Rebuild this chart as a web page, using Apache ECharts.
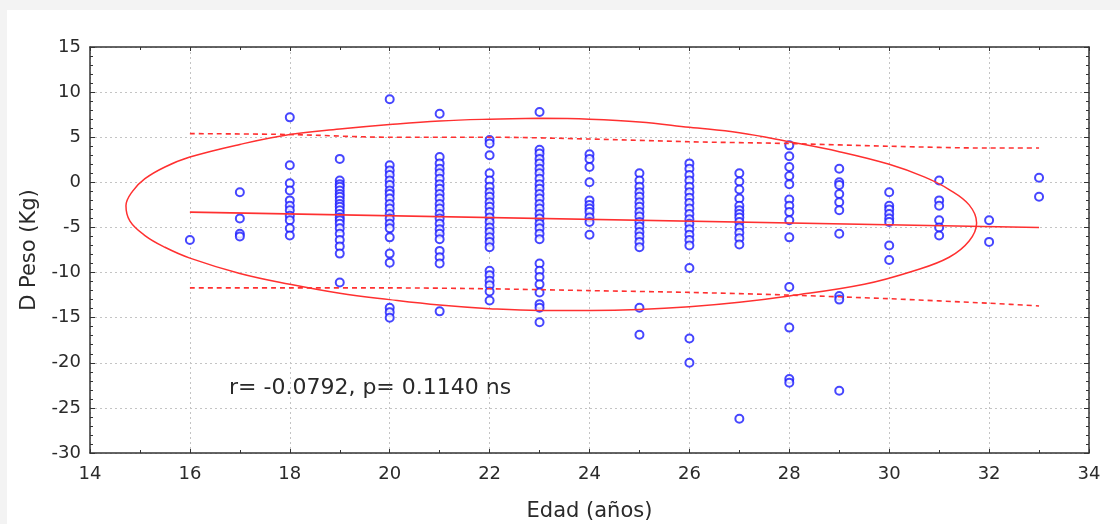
<!DOCTYPE html>
<html>
<head>
<meta charset="utf-8">
<script src="https://cdn.jsdelivr.net/npm/echarts@6/dist/echarts.min.js"></script>
<style>
  html, body { margin: 0; padding: 0; background: #f3f3f3; }
  #chart { width: 1120px; height: 524px; }
</style>
</head>
<body>
<div id="chart"></div>
<script>
// edad (años) de cada columna de puntos
const ages = [16, 17, 18, 19, 20, 21, 22, 23, 24, 25, 26, 27, 28, 29, 30, 31, 32, 33];
// D Peso (Kg) leído por columna
const deltaPeso = [
  [-6.4],
  [-1.1, -4.0, -5.7, -6.0],
  [7.2, 1.9, -0.1, -0.9, -2.0, -2.6, -3.1, -3.7, -4.2, -5.1, -5.9],
  [2.6, 0.2, -0.2, -0.5, -0.9, -1.3, -1.6, -2.0, -2.4, -2.7, -3.1, -3.5, -3.9, -4.2, -4.6, -5.1, -5.7, -6.4, -7.1, -7.9, -11.1],
  [9.2, 1.9, 1.3, 0.8, 0.2, -0.3, -0.9, -1.3, -1.8, -2.4, -2.9, -3.5, -4.0, -4.6, -5.1, -6.1, -7.9, -8.9, -13.9, -14.4, -15.0],
  [7.6, 2.8, 2.1, 1.5, 1.0, 0.4, -0.2, -0.7, -1.3, -1.8, -2.4, -2.9, -3.5, -4.0, -4.6, -5.2, -5.7, -6.3, -7.6, -8.3, -9.0, -14.3],
  [4.7, 4.3, 3.0, 1.0, 0.2, -0.5, -1.1, -1.6, -2.2, -2.7, -3.3, -3.9, -4.4, -5.0, -5.5, -6.1, -6.6, -7.2, -9.8, -10.3, -10.9, -11.4, -12.1, -13.1],
  [7.8, 3.6, 3.2, 2.6, 2.1, 1.5, 1.0, 0.4, -0.2, -0.7, -1.3, -1.8, -2.4, -2.9, -3.5, -4.0, -4.6, -5.1, -5.7, -6.3, -9.0, -9.8, -10.5, -11.3, -12.2, -13.5, -13.9, -15.5],
  [3.1, 2.6, 1.7, 0.0, -2.0, -2.5, -2.9, -3.3, -3.9, -4.4, -5.8],
  [1.0, 0.2, -0.5, -1.1, -1.6, -2.2, -2.7, -3.3, -3.8, -4.4, -4.9, -5.5, -6.0, -6.6, -7.2, -13.9, -16.9],
  [2.1, 1.5, 0.8, 0.2, -0.5, -1.1, -1.7, -2.3, -2.9, -3.5, -4.1, -4.6, -5.2, -5.8, -6.4, -7.0, -9.5, -17.3, -20.0],
  [1.0, 0.1, -0.8, -1.8, -2.6, -3.1, -3.5, -3.9, -4.4, -5.0, -5.6, -6.2, -6.9, -26.2],
  [4.1, 2.9, 1.7, 0.7, -0.2, -1.9, -2.6, -3.3, -4.2, -6.1, -11.6, -16.1, -21.8, -22.2],
  [1.5, 0.0, -0.3, -1.3, -2.2, -3.1, -5.7, -12.6, -13.0, -23.1],
  [-1.1, -2.6, -3.0, -3.5, -4.0, -4.4, -7.0, -8.6],
  [0.2, -2.0, -2.6, -4.2, -5.0, -5.9],
  [-4.2, -6.6],
  [0.5, -1.6]
];

// recta de regresión
const fitX = [16, 33];
const fitY = [-3.3, -5.0];

// bandas de predicción (discontinuas)
const bandX = [16, 18, 20, 22, 24, 26, 28, 30, 32, 33];
const bandUpper = [5.4, 5.3, 5.0, 5.0, 4.8, 4.5, 4.3, 4.0, 3.8, 3.8];
const bandLower = [-11.7, -11.7, -11.7, -11.8, -12.0, -12.2, -12.5, -12.9, -13.4, -13.7];

// elipse (empieza y acaba arriba)
const ellipseX = [23, 24, 25, 26, 27, 28, 29, 30, 30.7, 31.2, 31.6, 31.75,
  31.6, 31.2, 30.5, 29.5, 28, 27, 26, 25, 24, 23, 22, 21, 20, 19, 18, 17, 16, 15.5, 15.1, 14.8, 14.72, 14.85, 15.1, 15.5,
  16, 17, 18, 19, 20, 21, 22, 23];
const ellipseY = [7.1, 7.0, 6.7, 6.1, 5.5, 4.5, 3.4, 2.0, 0.6, -0.8, -2.5, -4.5,
  -6.5, -8.3, -9.8, -11.3, -12.6, -13.3, -13.8, -14.1, -14.2, -14.2, -14.0, -13.6, -13.0, -12.3, -11.3, -10.1, -8.4, -7.2, -5.9, -4.3, -2.6, -1.0, 0.4, 1.7,
  2.8, 4.2, 5.3, 5.9, 6.4, 6.8, 7.0, 7.1];

const xTicks = { min: 14, max: 34, interval: 2 };
const yTicks = { min: -30, max: 15, interval: 5 };
const statText = 'r= -0.0792, p= 0.1140 ns';

const points = [];
ages.forEach((a, i) => deltaPeso[i].forEach((v) => points.push([a, v])));
const pairs = (xs, ys) => xs.map((x, i) => [x, ys[i]]);

const font = 'DejaVu Sans';
const ink = '#2a2a2a';
const red = '#ff3030';
const gridLine = { show: true, lineStyle: { color: '#c4c4c4', type: [2, 3], width: 1 } };
const frameLine = { show: true, onZero: false, lineStyle: { color: '#333', width: 1.5 } };

const chart = echarts.init(document.getElementById('chart'));
chart.setOption({
  backgroundColor: '#f3f3f3',
  animation: false,
  graphic: [
    { type: 'rect', z: -10, shape: { x: 7, y: 10, width: 1113, height: 514 }, style: { fill: '#ffffff' } },
    { type: 'text', left: 229, top: 377, style: { text: statText, font: '22px "DejaVu Sans"', fill: ink } }
  ],
  grid: { left: 90, right: 31, top: 47, bottom: 71, outerBoundsMode: 'none', containLabel: false },
  xAxis: [
    {
      type: 'value', min: xTicks.min, max: xTicks.max, interval: xTicks.interval,
      name: 'Edad (años)', nameLocation: 'middle', nameGap: 48,
      nameTextStyle: { fontFamily: font, fontSize: 21, color: ink },
      axisLine: frameLine,
      axisTick: { inside: true, length: 4, lineStyle: { color: '#333' } },
      minorTick: { show: true, splitNumber: 2, length: 3, lineStyle: { color: '#333' } },
      axisLabel: { fontFamily: font, fontSize: 18, color: ink, margin: 12 },
      splitLine: gridLine
    },
    {
      type: 'value', position: 'top', min: xTicks.min, max: xTicks.max, interval: xTicks.interval,
      axisLine: frameLine,
      axisTick: { show: true, inside: true, length: 4, lineStyle: { color: '#333' } },
      minorTick: { show: true, splitNumber: 2, length: 3, lineStyle: { color: '#333' } },
      axisLabel: { show: false }, splitLine: { show: false }
    }
  ],
  yAxis: [
    {
      type: 'value', min: yTicks.min, max: yTicks.max, interval: yTicks.interval,
      name: 'D Peso (Kg)', nameLocation: 'middle', nameGap: 50,
      nameTextStyle: { fontFamily: font, fontSize: 21, color: ink },
      axisLine: frameLine,
      axisTick: { show: true, inside: true, length: 5, lineStyle: { color: '#333' } },
      minorTick: { show: true, splitNumber: 5, length: 3, lineStyle: { color: '#333' } },
      axisLabel: { fontFamily: font, fontSize: 18, color: ink, margin: 9 },
      splitLine: gridLine
    },
    {
      type: 'value', position: 'right', min: yTicks.min, max: yTicks.max, interval: yTicks.interval,
      axisLine: frameLine,
      axisTick: { show: true, inside: true, length: 5, lineStyle: { color: '#333' } },
      minorTick: { show: true, splitNumber: 5, length: 3, lineStyle: { color: '#333' } },
      axisLabel: { show: false }, splitLine: { show: false }
    }
  ],
  series: [
    {
      type: 'scatter', data: points, symbol: 'emptyCircle', symbolSize: 8,
      itemStyle: { color: '#1818ff', borderColor: '#1818ff', borderWidth: 1.8 }, z: 3
    },
    {
      type: 'line', data: pairs(fitX, fitY), showSymbol: false,
      lineStyle: { color: red, width: 1.6 }, z: 4
    },
    {
      type: 'line', data: pairs(bandX, bandUpper), showSymbol: false, smooth: 0.3,
      lineStyle: { color: red, width: 1.6, type: [5, 4] }, z: 4
    },
    {
      type: 'line', data: pairs(bandX, bandLower), showSymbol: false, smooth: 0.3,
      lineStyle: { color: red, width: 1.6, type: [5, 4] }, z: 4
    },
    {
      type: 'line', data: pairs(ellipseX, ellipseY), showSymbol: false, smooth: 0.4,
      lineStyle: { color: red, width: 1.5 }, z: 4
    }
  ]
});
window.addEventListener('resize', () => chart.resize());
</script>
</body>
</html>
